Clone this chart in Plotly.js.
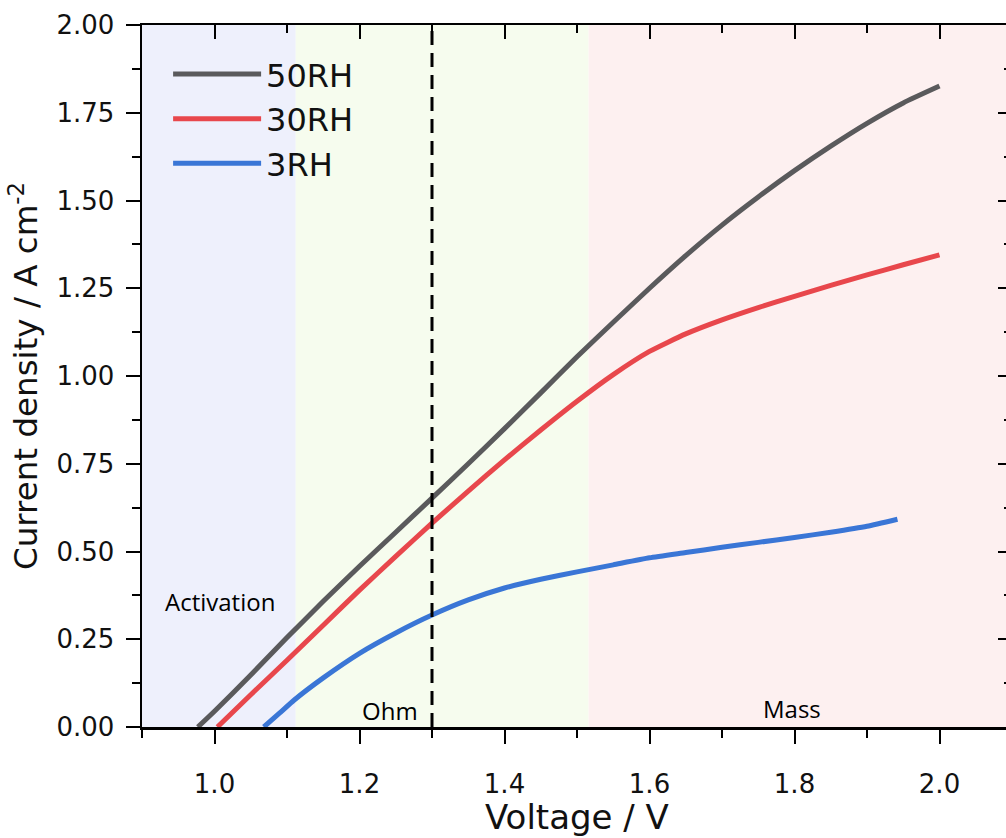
<!DOCTYPE html>
<html>
<head>
<meta charset="utf-8">
<script src="https://cdn.plot.ly/plotly-3.0.1.min.js"></script>
<style>
  html, body { margin: 0; padding: 0; overflow: hidden; background: #ffffff; }
  #chart { width: 1012px; height: 838px; }
</style>
</head>
<body>
<div id="chart"></div>
<script>
// ---- Data ----
const seriesNames = ['50RH', '30RH', '3RH'];

const voltage50RH = [0.977, 1.0, 1.05, 1.1, 1.15, 1.2, 1.25, 1.3, 1.35, 1.4, 1.45, 1.5, 1.55, 1.6, 1.65, 1.7, 1.75, 1.8, 1.85, 1.9, 1.95, 2.0];
const current50RH = [0, 0.045, 0.148, 0.255, 0.358, 0.458, 0.555, 0.652, 0.75, 0.85, 0.952, 1.055, 1.153, 1.25, 1.343, 1.43, 1.51, 1.585, 1.655, 1.72, 1.778, 1.826];

const voltage30RH = [1.004, 1.05, 1.1, 1.15, 1.2, 1.25, 1.3, 1.35, 1.4, 1.45, 1.5, 1.55, 1.6, 1.65, 1.7, 1.75, 1.8, 1.85, 1.9, 1.95, 2.0];
const current30RH = [0, 0.092, 0.19, 0.29, 0.39, 0.486, 0.581, 0.672, 0.761, 0.846, 0.928, 1.004, 1.07, 1.12, 1.16, 1.195, 1.227, 1.258, 1.288, 1.317, 1.345];

const voltage3RH = [1.068, 1.09, 1.11, 1.15, 1.2, 1.25, 1.3, 1.35, 1.4, 1.45, 1.5, 1.55, 1.6, 1.65, 1.7, 1.75, 1.8, 1.85, 1.9, 1.942];
const current3RH = [0, 0.04, 0.077, 0.14, 0.21, 0.268, 0.319, 0.362, 0.396, 0.421, 0.442, 0.462, 0.482, 0.497, 0.512, 0.526, 0.54, 0.555, 0.572, 0.592];

const seriesColors = ['#5a5a5c', '#e8474c', '#3a76d6'];

// Regions (voltage boundaries) and their labels
const regionEdges = [0.9, 1.112, 1.516, 2.1];
const regionNames = ['Activation', 'Ohm', 'Mass'];
const regionColors = ['#eef0fc', '#f6fcee', '#fdf0f0'];
const regionLabelX = [1.008, 1.242, 1.797];
const regionLabelY = [0.357, 0.046, 0.054];

const dividerVoltage = 1.3;

const xTickVals = [1.0, 1.2, 1.4, 1.6, 1.8, 2.0];
const yTickVals = [0, 0.25, 0.5, 0.75, 1.0, 1.25, 1.5, 1.75, 2.0];

const xTitle = 'Voltage / V';
const yTitle = 'Current density / A cm<sup>-2</sup>';

// ---- Build traces ----
const xs = [voltage50RH, voltage30RH, voltage3RH];
const ys = [current50RH, current30RH, current3RH];
const traces = seriesNames.map((name, i) => ({
  type: 'scatter',
  mode: 'lines',
  name: name,
  legendgroup: name,
  x: xs[i],
  y: ys[i],
  line: { color: seriesColors[i], width: 5, shape: 'spline', smoothing: 0.5 },
  hoverinfo: 'x+y+name'
}));
// empty helper trace so the mirrored frame axes (top / right) are drawn
traces.push({
  type: 'scatter', mode: 'lines', x: [], y: [],
  xaxis: 'x2', yaxis: 'y2', showlegend: false, hoverinfo: 'skip'
});

const shapes = [];
for (let i = 0; i < regionNames.length; i++) {
  shapes.push({
    type: 'rect', layer: 'below', xref: 'x', yref: 'paper',
    x0: regionEdges[i], x1: regionEdges[i + 1], y0: 0, y1: 1,
    fillcolor: regionColors[i], line: { width: 0 }
  });
}
shapes.push({
  type: 'line', layer: 'above', xref: 'x', yref: 'paper',
  x0: dividerVoltage, x1: dividerVoltage, y0: 0, y1: 1,
  line: { color: '#000000', width: 3, dash: '14px,8px' }
});

const annotations = regionNames.map((t, i) => ({
  text: t, x: regionLabelX[i], y: regionLabelY[i], xref: 'x', yref: 'y',
  showarrow: false, xanchor: 'center', yanchor: 'middle',
  font: { family: 'Open Sans, Noto Sans, sans-serif', size: 24, color: '#000000' }
}));
// x-axis title (placed as a paper annotation centred under the plot)
annotations.push({
  text: xTitle, xref: 'paper', yref: 'paper', x: 0.5, y: -0.128,
  xanchor: 'center', yanchor: 'middle', showarrow: false,
  font: { family: 'DejaVu Sans, sans-serif', size: 34, color: '#111111' }
});

const tickFont = { family: 'DejaVu Sans, sans-serif', size: 26, color: '#111111' };

const layout = {
  width: 1012,
  height: 838,
  margin: { l: 141.5, r: 0, t: 25, b: 111, pad: 0 },
  paper_bgcolor: '#ffffff',
  plot_bgcolor: '#ffffff',
  showlegend: true,
  legend: {
    x: 0.03, y: 0.969, xanchor: 'left', yanchor: 'top',
    bgcolor: 'rgba(0,0,0,0)', borderwidth: 0,
    font: { family: 'DejaVu Sans, sans-serif', size: 32, color: '#111111' },
    itemwidth: 88, tracegroupgap: 0
  },
  xaxis: {
    range: [0.9, 2.1],
    tickvals: xTickVals,
    tickformat: '.1f',
    ticks: 'outside', ticklen: 14, tickwidth: 2, tickcolor: '#000000',
    minor: { ticks: 'outside', ticklen: 8, tickwidth: 2, tickcolor: '#000000', dtick: 0.1, tick0: 0.9, showgrid: false },
    showline: true, linecolor: '#000000', linewidth: 2.5,
    showgrid: false, zeroline: false,
    tickfont: tickFont,
    ticklabelstandoff: 18
  },
  xaxis2: {
    overlaying: 'x', side: 'top', anchor: 'y',
    range: [0.9, 2.1],
    tickvals: xTickVals,
    ticks: 'inside', ticklen: 14, tickwidth: 2, tickcolor: '#000000',
    minor: { ticks: 'inside', ticklen: 8, tickwidth: 2, tickcolor: '#000000', dtick: 0.1, tick0: 0.9, showgrid: false },
    showticklabels: false,
    showline: true, linecolor: '#000000', linewidth: 2.5,
    showgrid: false, zeroline: false
  },
  yaxis: {
    range: [0, 2],
    tickvals: yTickVals,
    tickformat: '.2f',
    ticks: 'outside', ticklen: 14, tickwidth: 2, tickcolor: '#000000',
    minor: { ticks: 'outside', ticklen: 8, tickwidth: 2, tickcolor: '#000000', dtick: 0.125, tick0: 0, showgrid: false },
    showline: true, linecolor: '#000000', linewidth: 2.5,
    showgrid: false, zeroline: false,
    tickfont: tickFont,
    ticklabelstandoff: 6,
    title: { text: yTitle, font: { family: 'DejaVu Sans, sans-serif', size: 32.5, color: '#111111' }, standoff: 9 }
  },
  yaxis2: {
    overlaying: 'y', side: 'right', anchor: 'x',
    range: [0, 2],
    tickvals: yTickVals,
    ticks: 'inside', ticklen: 14, tickwidth: 2, tickcolor: '#000000',
    minor: { ticks: 'inside', ticklen: 8, tickwidth: 2, tickcolor: '#000000', dtick: 0.125, tick0: 0, showgrid: false },
    showticklabels: false,
    showline: true, linecolor: '#000000', linewidth: 2.5,
    showgrid: false, zeroline: false
  },
  shapes: shapes,
  annotations: annotations
};

Plotly.newPlot('chart', traces, layout, { displayModeBar: false, staticPlot: true });
</script>
</body>
</html>
